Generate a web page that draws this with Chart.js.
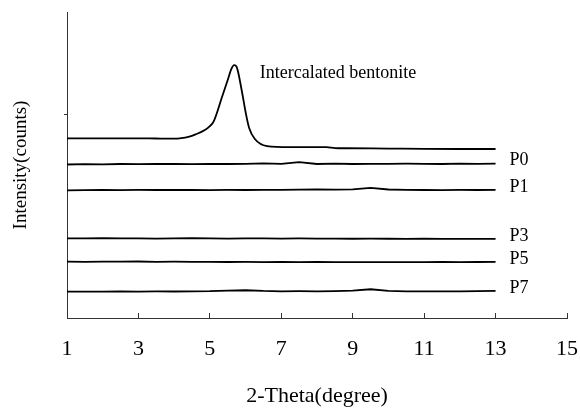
<!DOCTYPE html>
<html>
<head>
<meta charset="utf-8">
<script src="https://cdn.jsdelivr.net/npm/chart.js@4/dist/chart.umd.min.js"></script>
<style>
  html, body { margin: 0; padding: 0; background: #fff; }
  #wrap { width: 580px; height: 409px; position: relative; }
</style>
</head>
<body>
<div id="wrap"><canvas id="c" width="580" height="409"></canvas></div>
<script>
// ---- data ----
const seriesNames = ['Intercalated bentonite', 'P0', 'P1', 'P3', 'P5', 'P7'];

// Intercalated bentonite (2-Theta, intensity)
const bentoniteTheta = [1, 2, 3, 3.3, 3.7, 4.0, 4.2, 4.4, 4.6, 4.86, 5.0, 5.1, 5.35, 5.5, 5.6, 5.68, 5.75, 5.9, 6.0, 6.1, 6.26, 6.6, 7.24, 8.27, 8.5, 8.83, 10, 11, 12, 13];
const bentoniteCounts = [1762, 1762, 1762, 1762, 1758, 1758, 1763, 1776, 1800, 1843, 1882, 1922, 2177, 2333, 2441, 2480, 2461, 2216, 2020, 1863, 1755, 1686, 1676, 1676, 1666, 1664, 1661, 1658, 1657, 1657];

// flat patterns, sampled every 0.5 degree from 1 to 13
const flatTheta = [1, 1.5, 2, 2.5, 3, 3.5, 4, 4.5, 5, 5.5, 6, 6.5, 7, 7.5, 8, 8.5, 9, 9.5, 10, 10.5, 11, 11.5, 12, 12.5, 13];
const p0Counts = [1505, 1508, 1506, 1510, 1509, 1512, 1510, 1508, 1512, 1510, 1511, 1515, 1512, 1528, 1510, 1513, 1510, 1512, 1511, 1513, 1512, 1510, 1513, 1512, 1513];
const p1Counts = [1252, 1253, 1255, 1254, 1256, 1255, 1257, 1255, 1254, 1256, 1255, 1257, 1256, 1258, 1260, 1258, 1262, 1275, 1260, 1256, 1255, 1254, 1256, 1255, 1257];
const p3Counts = [781, 780, 782, 780, 781, 779, 780, 782, 780, 779, 781, 780, 779, 780, 778, 779, 777, 778, 777, 776, 777, 775, 776, 775, 776];
const p5Counts = [552, 551, 553, 552, 554, 551, 552, 550, 551, 549, 550, 548, 549, 548, 549, 547, 548, 547, 548, 547, 548, 549, 548, 549, 550];
const p7Counts = [258, 259, 258, 260, 259, 261, 260, 262, 263, 268, 272, 265, 262, 263, 262, 264, 268, 282, 266, 262, 261, 262, 261, 263, 265];

const xTickStep = 2;      // 1, 3, 5 ... 15
const yTickValues = [2000];
const annotationAnchor = { x: 6.4, y: 2400 }; // where the peak's name is written

// ---- build chart ----
const pair = (xs, ys) => xs.map((x, i) => ({ x: x, y: ys[i] }));
const seriesData = [
  pair(bentoniteTheta, bentoniteCounts),
  pair(flatTheta, p0Counts),
  pair(flatTheta, p1Counts),
  pair(flatTheta, p3Counts),
  pair(flatTheta, p5Counts),
  pair(flatTheta, p7Counts)
];

const SERIF = '"Liberation Serif", "Times New Roman", serif';

const labelPlugin = {
  id: 'seriesLabels',
  afterDatasetsDraw(chart) {
    const ctx = chart.ctx;
    ctx.save();
    ctx.fillStyle = '#000';
    ctx.font = '18px ' + SERIF;
    ctx.textBaseline = 'middle';
    ctx.textAlign = 'left';
    chart.data.datasets.forEach((ds, i) => {
      if (i === 0) {
        const x = chart.scales.x.getPixelForValue(annotationAnchor.x);
        const y = chart.scales.y.getPixelForValue(annotationAnchor.y);
        ctx.fillText(ds.label, x, y);
      } else {
        const pts = chart.getDatasetMeta(i).data;
        const last = pts[pts.length - 1];
        ctx.fillText(ds.label, last.x + 14, last.y - 3);
      }
    });
    ctx.restore();
  }
};

new Chart(document.getElementById('c'), {
  type: 'line',
  data: {
    datasets: seriesData.map((d, i) => ({
      label: seriesNames[i],
      data: d,
      borderColor: '#000',
      borderWidth: 1.8,
      pointRadius: 0,
      cubicInterpolationMode: i === 0 ? 'monotone' : 'default',
      tension: 0,
      fill: false
    }))
  },
  plugins: [labelPlugin],
  options: {
    responsive: false,
    animation: false,
    events: [],
    layout: { padding: { top: 12, right: 13, bottom: 0, left: 0 } },
    plugins: { legend: { display: false }, tooltip: { enabled: false } },
    scales: {
      x: {
        type: 'linear',
        min: 1,
        max: 15,
        ticks: {
          stepSize: xTickStep,
          color: '#000',
          font: { family: SERIF, size: 22 },
          padding: 23,
          maxRotation: 0
        },
        grid: { drawOnChartArea: false, drawTicks: true, tickLength: -5, color: '#333' },
        border: { display: true, color: '#333', width: 1 },
        title: {
          display: true,
          text: '2-Theta(degree)',
          color: '#000',
          font: { family: SERIF, size: 22 },
          padding: { top: 0, bottom: 0 }
        },
        afterFit(scale) {
          scale.height = 91;
          scale.paddingLeft = 0;
          scale.paddingRight = 0;
        }
      },
      y: {
        type: 'linear',
        min: 0,
        max: 3000,
        afterBuildTicks(scale) { scale.ticks = yTickValues.map(v => ({ value: v })); },
        ticks: { display: false },
        grid: { drawOnChartArea: false, drawTicks: true, tickLength: 3, color: '#333' },
        border: { display: true, color: '#333', width: 1 },
        title: {
          display: true,
          text: 'Intensity(counts)',
          color: '#000',
          font: { family: SERIF, size: 19 },
          padding: { top: 10, bottom: 0 }
        },
        afterFit(scale) {
          scale.width = 67;
          scale.paddingTop = 0;
          scale.paddingBottom = 0;
        }
      }
    }
  }
});
</script>
</body>
</html>
